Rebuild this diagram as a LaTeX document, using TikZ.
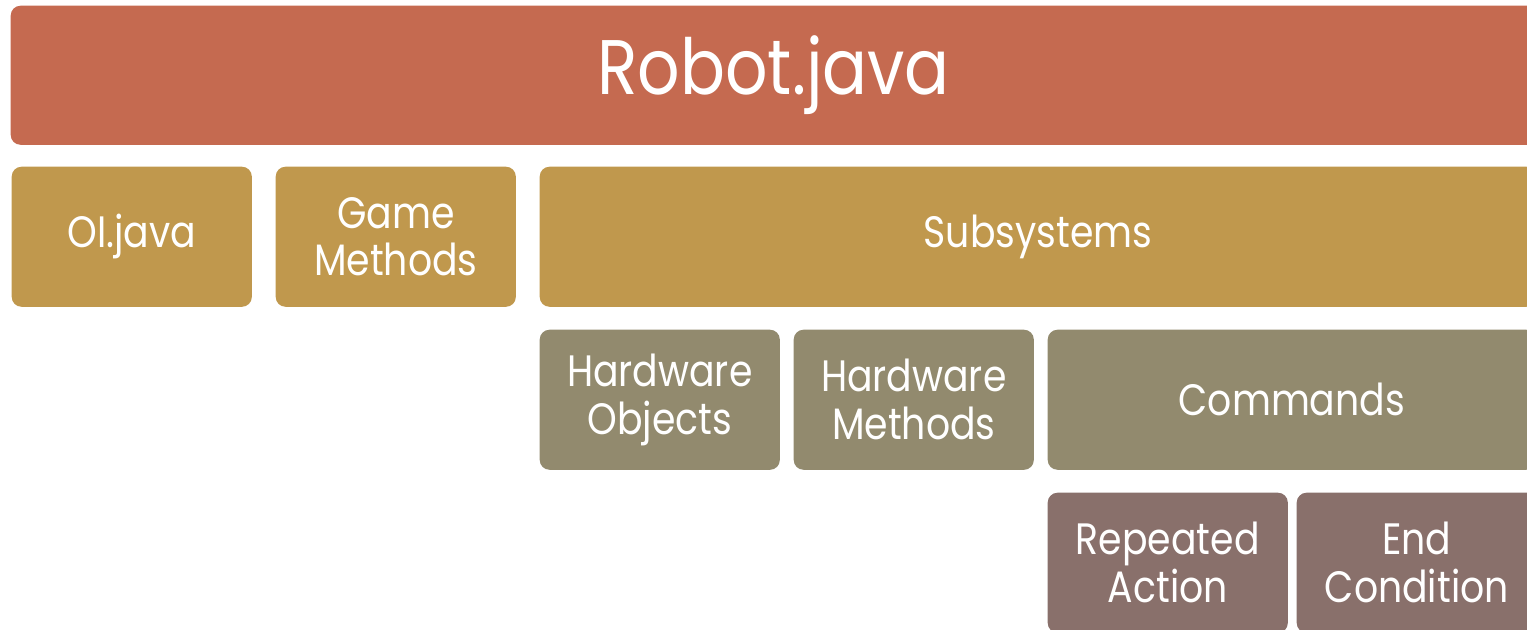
\documentclass[tikz,border=0pt]{standalone}
\usepackage{fontspec}
\setmainfont{Poppins}[FakeStretch=0.86]
\definecolor{robotred}{RGB}{197,106,80}
\definecolor{levelgold}{RGB}{192,152,77}
\definecolor{levelolive}{RGB}{146,138,110}
\definecolor{levelmauve}{RGB}{137,112,107}
\begin{document}
\begin{tikzpicture}[x=0.01cm, y=-0.01cm,
    block/.style={anchor=north west, rounded corners=2.8pt, text=white,
        align=center, inner sep=0pt, minimum height=1.4cm,
        font=\fontsize{12.5}{13.6}\selectfont},
    smallblock/.style={block, minimum width=2.4cm}]
    % --- FRAME ---
    \useasboundingbox (0,0) rectangle (1527,629);
    \clip (0,0) rectangle (1527,629);

    % --- TOP LEVEL ---
    \node[block, fill=robotred, minimum width=15.25cm, minimum height=1.39cm,
        font=\fontsize{22}{24}\selectfont] (robot) at (10,5) {Robot.java};

    % --- SECOND LEVEL ---
    \node[smallblock, fill=levelgold] (oi) at (11,166) {OI.java};
    \node[smallblock, fill=levelgold] (game) at (275,166) {Game\\Methods};
    \node[block, fill=levelgold, minimum width=9.96cm] (subsys) at (539,166) {Subsystems};

    % --- THIRD LEVEL ---
    \node[smallblock, fill=levelolive] (hwobj) at (539,329) {Hardware\\Objects};
    \node[smallblock, fill=levelolive] (hwmeth) at (793,329) {Hardware\\Methods};
    \node[block, fill=levelolive, minimum width=4.88cm] (cmds) at (1047,329) {Commands};

    % --- FOURTH LEVEL ---
    \node[smallblock, fill=levelmauve] (repeat) at (1047,492) {Repeated\\Action};
    \node[smallblock, fill=levelmauve] (endcond) at (1296,492) {End\\Condition};
\end{tikzpicture}
\end{document}
